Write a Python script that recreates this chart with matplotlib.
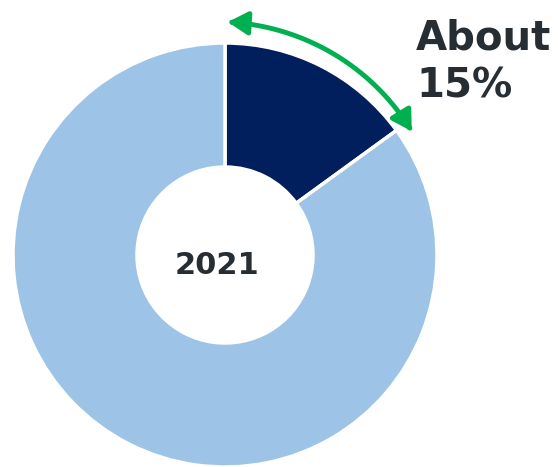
import numpy as np
import matplotlib
matplotlib.use("Agg")
import matplotlib.pyplot as plt
from matplotlib.path import Path
from matplotlib.patches import FancyArrowPatch

# share of the year
labels = ["share", "rest"]
values = [15, 85]
colors = ["#001f5c", "#9dc3e6"]
year = "2021"
note = "About\n15%"

W, H = 558, 467
fig = plt.figure(figsize=(W / 100, H / 100), dpi=100)
ax = fig.add_axes([0, 0, 1, 1])

cx, cy, r_out, r_in = 225, 212, 212, 88
ax.pie(values, colors=colors, startangle=90, counterclock=False,
       center=(cx, cy), radius=r_out, frame=True,
       wedgeprops=dict(width=r_out - r_in, edgecolor="white", linewidth=2.5))
ax.set_xlim(0, W)
ax.set_ylim(0, H)
ax.set_aspect("equal")
ax.axis("off")

ax.text(217, 202, year, ha="center", va="center", fontsize=22,
        fontweight="bold", color="#262d33")
ax.text(416, 370, note, ha="left", va="baseline", fontsize=29,
        fontweight="bold", color="#262d33", linespacing=1.24)

# green double arrow around the dark wedge
a0 = 90 - 0.7
a1 = 90 - values[0] / sum(values) * 360 - 2.5
t = np.radians(np.linspace(a0, a1, 60))
rr = np.linspace(233, 224, 60)
pts = np.column_stack([cx + rr * np.cos(t), cy + rr * np.sin(t)])
arrow = FancyArrowPatch(path=Path(pts), arrowstyle="<|-|>,head_length=12,head_width=7",
                        color="#00b050", linewidth=3.5, mutation_scale=1)
ax.add_patch(arrow)

fig.savefig("out.png", dpi=100)
